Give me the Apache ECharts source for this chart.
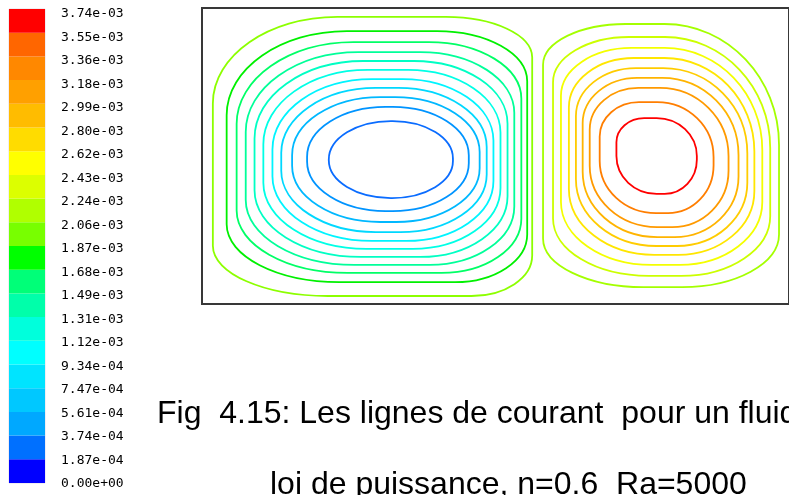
<!DOCTYPE html>
<html>
<head>
<meta charset="utf-8">
<script src="https://cdn.jsdelivr.net/npm/echarts@6/dist/echarts.min.js"></script>
<style>
  html, body { margin: 0; padding: 0; background: #ffffff; }
  #chart { width: 789px; height: 495px; }
</style>
</head>
<body>
<div id="chart"></div>
<script>
// Stream-function scale, top label first
const scaleLabels = ['3.74e-03', '3.55e-03', '3.36e-03', '3.18e-03', '2.99e-03', '2.80e-03',
  '2.62e-03', '2.43e-03', '2.24e-03', '2.06e-03', '1.87e-03', '1.68e-03', '1.49e-03',
  '1.31e-03', '1.12e-03', '9.34e-04', '7.47e-04', '5.61e-04', '3.74e-04', '1.87e-04', '0.00e+00'];

// Colour of each scale band, lowest band first
const scaleColors = ['#0000ff', '#0070ff', '#00a8ff', '#00c8ff', '#00e4ff', '#00ffff', '#00ffdc',
  '#00ffaa', '#00ff78', '#00ff00', '#78ff00', '#b0ff00', '#dcff00', '#ffff00', '#ffdc00',
  '#ffbc00', '#ffa000', '#ff8800', '#ff6600', '#ff0000'];

// Cavity: x in [0, 2], y in [0, 1]
// Left cell streamlines, outermost first: [xMin, xMax, yMin, yMax]
const leftBoxes = [
  [0.037, 1.125, 0.027, 0.970],
  [0.084, 1.108, 0.074, 0.922],
  [0.118, 1.088, 0.105, 0.885],
  [0.149, 1.064, 0.132, 0.851],
  [0.179, 1.041, 0.159, 0.821],
  [0.209, 1.017, 0.186, 0.791],
  [0.240, 0.993, 0.213, 0.760],
  [0.270, 0.970, 0.243, 0.730],
  [0.307, 0.946, 0.277, 0.699],
  [0.358, 0.909, 0.314, 0.666],
  [0.432, 0.855, 0.358, 0.618]
];
// Corner roundness as a share of the half width / half height:
// top-left x, y, top-right x, y, bottom-right x, y, bottom-left x, y
const leftCorners = [
  [0.78, 0.62, 0.54, 0.29, 0.38, 0.29, 0.72, 0.36],
  [0.80, 0.67, 0.60, 0.40, 0.48, 0.38, 0.75, 0.46],
  [0.82, 0.71, 0.65, 0.49, 0.56, 0.47, 0.78, 0.54],
  [0.84, 0.75, 0.70, 0.57, 0.63, 0.55, 0.81, 0.61],
  [0.86, 0.79, 0.74, 0.64, 0.69, 0.62, 0.84, 0.68],
  [0.88, 0.83, 0.78, 0.70, 0.74, 0.68, 0.87, 0.74],
  [0.90, 0.87, 0.82, 0.76, 0.79, 0.74, 0.90, 0.80],
  [0.92, 0.90, 0.86, 0.82, 0.84, 0.80, 0.92, 0.85],
  [0.94, 0.93, 0.90, 0.88, 0.89, 0.86, 0.94, 0.90],
  [0.97, 0.96, 0.94, 0.93, 0.94, 0.92, 0.97, 0.95],
  [1.00, 1.00, 0.97, 0.97, 0.98, 0.96, 1.00, 0.98]
];
const leftColors = ['#8cff00', '#00f000', '#00ff66', '#00ff99', '#00ffc4', '#00ffe6',
  '#00f4ff', '#00d8ff', '#00b8ff', '#0094ff', '#0a6cff'];

// Right cell streamlines, outermost first
const rightBoxes = [
  [1.162, 1.966, 0.057, 0.946],
  [1.196, 1.936, 0.095, 0.902],
  [1.223, 1.909, 0.132, 0.865],
  [1.250, 1.882, 0.166, 0.831],
  [1.274, 1.858, 0.196, 0.797],
  [1.297, 1.828, 0.226, 0.764],
  [1.321, 1.794, 0.260, 0.730],
  [1.355, 1.743, 0.307, 0.682],
  [1.412, 1.686, 0.372, 0.628]
];
const rightCorners = [
  [0.70, 0.31, 0.97, 0.92, 0.82, 0.40, 0.85, 0.37],
  [0.70, 0.38, 0.97, 0.93, 0.82, 0.50, 0.88, 0.48],
  [0.70, 0.44, 0.97, 0.94, 0.82, 0.58, 0.90, 0.58],
  [0.70, 0.50, 0.97, 0.95, 0.82, 0.65, 0.92, 0.67],
  [0.70, 0.54, 0.98, 0.96, 0.82, 0.71, 0.94, 0.75],
  [0.70, 0.57, 0.98, 0.97, 0.82, 0.76, 0.96, 0.82],
  [0.70, 0.60, 0.99, 0.98, 0.81, 0.81, 0.97, 0.88],
  [0.69, 0.62, 0.99, 0.99, 0.80, 0.86, 0.99, 0.94],
  [0.69, 0.64, 1.00, 1.00, 0.80, 0.90, 1.00, 1.00]
];
const rightColors = ['#a4ff00', '#ccff00', '#f4ff00', '#ffe600', '#ffcc00', '#ffb400',
  '#ff9a00', '#ff7e00', '#ff0000'];

const captionLine1 = 'Fig  4.15: Les lignes de courant  pour un fluide';
const captionLine2 = 'loi de puissance, n=0.6  Ra=5000';

// Closed streamline: straight sides joined by quarter-ellipse corners
const KAPPA = 0.5523;
const StreamLoop = echarts.graphic.extendShape({
  shape: { x0: 0, x1: 0, yT: 0, yB: 0, tl: [0, 0], tr: [0, 0], br: [0, 0], bl: [0, 0] },
  buildPath: function (ctx, s) {
    const k = KAPPA;
    const { x0, x1, yT, yB, tl, tr, br, bl } = s;
    ctx.moveTo(x0 + tl[0], yT);
    ctx.lineTo(x1 - tr[0], yT);
    ctx.bezierCurveTo(x1 - tr[0] + k * tr[0], yT, x1, yT + tr[1] - k * tr[1], x1, yT + tr[1]);
    ctx.lineTo(x1, yB - br[1]);
    ctx.bezierCurveTo(x1, yB - br[1] + k * br[1], x1 - br[0] + k * br[0], yB, x1 - br[0], yB);
    ctx.lineTo(x0 + bl[0], yB);
    ctx.bezierCurveTo(x0 + bl[0] - k * bl[0], yB, x0, yB - bl[1] + k * bl[1], x0, yB - bl[1]);
    ctx.lineTo(x0, yT + tl[1]);
    ctx.bezierCurveTo(x0, yT + tl[1] - k * tl[1], x0 + tl[0] - k * tl[0], yT, x0 + tl[0], yT);
    ctx.closePath();
  }
});
echarts.graphic.registerShape('streamLoop', StreamLoop);

function loopSeries(name, boxes, corners, colors) {
  return {
    type: 'custom',
    name: name,
    xAxisIndex: 0,
    yAxisIndex: 0,
    silent: true,
    encode: { x: [0, 1], y: [2, 3] },
    data: boxes.map((b, i) => b.concat(corners[i])),
    renderItem: function (params, api) {
      const topLeft = api.coord([api.value(0), api.value(3)]);
      const botRight = api.coord([api.value(1), api.value(2)]);
      const hw = (botRight[0] - topLeft[0]) / 2;
      const hh = (botRight[1] - topLeft[1]) / 2;
      const corner = (i) => [api.value(i) * hw, api.value(i + 1) * hh];
      return {
        type: 'streamLoop',
        shape: {
          x0: topLeft[0], x1: botRight[0], yT: topLeft[1], yB: botRight[1],
          tl: corner(4), tr: corner(6), br: corner(8), bl: corner(10)
        },
        style: { stroke: colors[params.dataIndex], fill: 'none', lineWidth: 1.8 }
      };
    }
  };
}

const chart = echarts.init(document.getElementById('chart'), null, { renderer: 'canvas' });

chart.setOption({
  animation: false,
  backgroundColor: '#ffffff',
  grid: [
    { left: 202, top: 8, width: 592, height: 296, show: true, borderColor: '#383838', borderWidth: 2, backgroundColor: 'transparent' },
    { left: 9, top: 9, width: 36, height: 474, show: true, borderColor: '#e4dbe6', borderWidth: 1 },
    { left: 9, top: 14, width: 36, height: 470, show: false }
  ],
  xAxis: [
    { type: 'value', gridIndex: 0, min: 0, max: 2, show: false },
    { type: 'value', gridIndex: 1, min: 0, max: 1, show: false },
    { type: 'value', gridIndex: 2, min: 0, max: 1, show: false }
  ],
  yAxis: [
    { type: 'value', gridIndex: 0, min: 0, max: 1, show: false },
    { type: 'value', gridIndex: 1, min: 0, max: 20, show: false },
    {
      type: 'value', gridIndex: 2, min: 0, max: 20, interval: 1, position: 'right',
      axisLine: { show: false }, axisTick: { show: false }, splitLine: { show: false },
      axisLabel: {
        margin: 16,
        formatter: (v) => scaleLabels[20 - v],
        fontFamily: '"DejaVu Sans Mono", monospace',
        fontSize: 13,
        color: '#000000'
      }
    }
  ],
  series: [
    {
      type: 'custom',
      name: 'scale',
      xAxisIndex: 1,
      yAxisIndex: 1,
      silent: true,
      data: scaleColors.map((c, i) => [i]),
      renderItem: function (params, api) {
        const band = api.value(0);
        const a = api.coord([0, band + 1]);
        const b = api.coord([1, band]);
        return {
          type: 'rect',
          shape: { x: a[0], y: a[1], width: b[0] - a[0], height: b[1] - a[1] },
          style: { fill: scaleColors[band] }
        };
      }
    },
    loopSeries('left cell', leftBoxes, leftCorners, leftColors),
    loopSeries('right cell', rightBoxes, rightCorners, rightColors)
  ],
  graphic: [
    {
      type: 'text', x: 157, y: 414, silent: true,
      style: { text: captionLine1, font: '32px "Liberation Sans", Arial, sans-serif', fill: '#000000', verticalAlign: 'middle' }
    },
    {
      type: 'text', x: 270, y: 485, silent: true,
      style: { text: captionLine2, font: '32px "Liberation Sans", Arial, sans-serif', fill: '#000000', verticalAlign: 'middle' }
    }
  ]
});
</script>
</body>
</html>
